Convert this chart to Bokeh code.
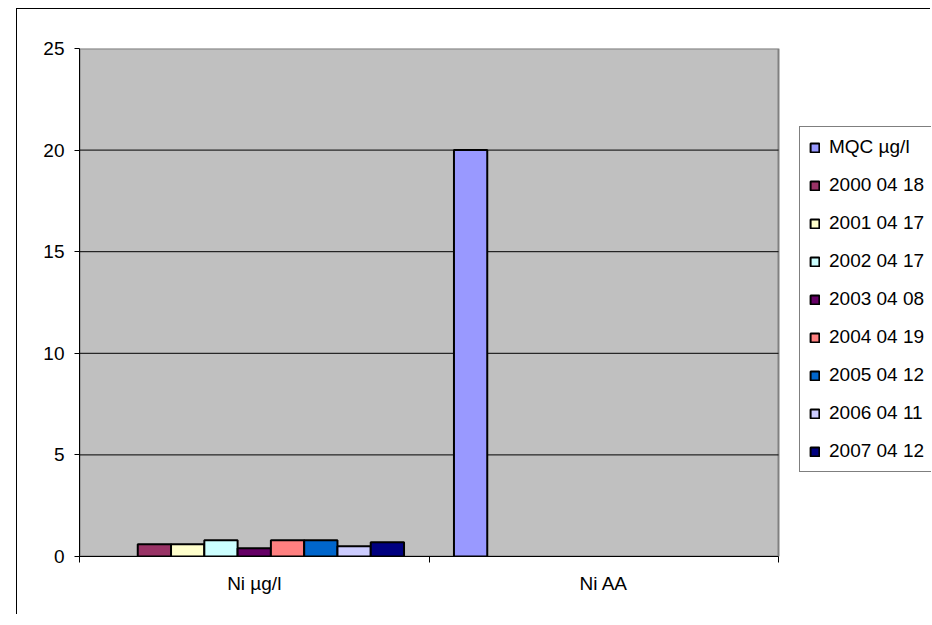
from bokeh.plotting import figure
from bokeh.models import Range1d, FixedTicker, Legend, LegendItem, ColumnDataSource
from bokeh.embed import file_html
from bokeh.resources import INLINE

categories = ["Ni µg/l", "Ni AA"]
series = ["MQC µg/l", "2000 04 18", "2001 04 17", "2002 04 17", "2003 04 08",
          "2004 04 19", "2005 04 12", "2006 04 11", "2007 04 12"]
colors = ["#9999FF", "#993366", "#FFFFCC", "#CCFFFF", "#660066",
          "#FF8080", "#0066CC", "#CCCCFF", "#000080"]
# values per series: [Ni µg/l, Ni AA]; None = no value
mqc = [None, 20]
v2000 = [0.6, None]
v2001 = [0.6, None]
v2002 = [0.8, None]
v2003 = [0.4, None]
v2004 = [0.8, None]
v2005 = [0.8, None]
v2006 = [0.5, None]
v2007 = [0.7, None]
values = [mqc, v2000, v2001, v2002, v2003, v2004, v2005, v2006, v2007]
y_ticks = [0, 5, 10, 15, 20, 25]
y_max = 25

FONT = "Liberation Sans"
FS = "19px"

ncat = len(categories)
W, H = 914, 606
LEFT, TOP, BOTTOM = 62, 39, 59
PLOT_W = 699  # pixel width of the grey plot area
frame_w = W - LEFT
x_end = ncat * frame_w / PLOT_W

p = figure(width=W, height=H, output_backend="svg", toolbar_location=None,
           x_range=Range1d(0, x_end), y_range=Range1d(0, y_max),
           min_border_left=LEFT, min_border_top=TOP, min_border_right=0,
           min_border_bottom=BOTTOM)
p.styles = {"border-left": "1px solid black", "border-top": "1px solid black",
            "margin-left": "16px", "margin-top": "8px"}

p.background_fill_color = "white"
p.border_fill_color = "white"
p.outline_line_color = None

# grey plot area
p.quad(left=0, right=ncat, bottom=0, top=y_max, fill_color="#C0C0C0",
       line_color="#808080", line_width=2, level="image")

# horizontal grid lines limited to the plot area
grid_y = [t for t in y_ticks if 0 < t < y_max]
p.segment(x0=[0] * len(grid_y), x1=[ncat] * len(grid_y), y0=grid_y, y1=grid_y,
          line_color="black", line_width=1, level="underlay")
p.xgrid.visible = False
p.ygrid.visible = False

# y axis
p.yaxis.ticker = FixedTicker(ticks=y_ticks)
p.yaxis.major_tick_out = 5
p.yaxis.major_tick_in = 0
p.yaxis.minor_tick_line_color = None
p.yaxis.axis_line_color = "black"
p.yaxis.major_tick_line_color = "black"
p.yaxis.major_label_text_font = FONT
p.yaxis.major_label_text_font_size = FS
p.yaxis.major_label_text_color = "black"
p.yaxis.major_label_standoff = 10

# x axis
centers = [i + 0.5 for i in range(ncat)]
p.xaxis.ticker = FixedTicker(ticks=centers, minor_ticks=list(range(ncat + 1)))
p.xaxis.bounds = (0, ncat)
p.xaxis.major_label_overrides = {c: lab for c, lab in zip(centers, categories)}
p.xaxis.major_tick_line_color = None
p.xaxis.major_tick_out = 0
p.xaxis.major_tick_in = 0
p.xaxis.minor_tick_line_color = "black"
p.xaxis.minor_tick_out = 6
p.xaxis.minor_tick_in = 0
p.xaxis.axis_line_color = "black"
p.xaxis.major_label_text_font = FONT
p.xaxis.major_label_text_font_size = FS
p.xaxis.major_label_text_color = "black"
p.xaxis.major_label_standoff = 10

nser = len(series)
w = 1 / (nser + 1.5)
items = []
for j, (name, col, vals) in enumerate(zip(series, colors, values)):
    xs = [c + (j - (nser - 1) / 2) * w for c in centers]
    tops = [float("nan") if v is None else v for v in vals]
    src = ColumnDataSource(dict(x=xs, top=tops))
    r = p.vbar(x="x", top="top", bottom=0, width=w, source=src,
               fill_color=col, line_color="black", line_width=2)
    items.append(LegendItem(label=name, renderers=[r]))

legend = Legend(items=items, location=(720, 84))
legend.label_text_font = FONT
legend.label_text_font_size = FS
legend.label_text_color = "black"
legend.glyph_width = 11
legend.glyph_height = 11
legend.label_height = 20
legend.spacing = 16
legend.padding = 9
legend.margin = 0
legend.label_standoff = 9
legend.border_line_color = "black"
legend.border_line_width = 1
legend.background_fill_color = "white"
legend.background_fill_alpha = 1
p.add_layout(legend, "center")

open("out.html", "w").write(file_html(p, INLINE))
